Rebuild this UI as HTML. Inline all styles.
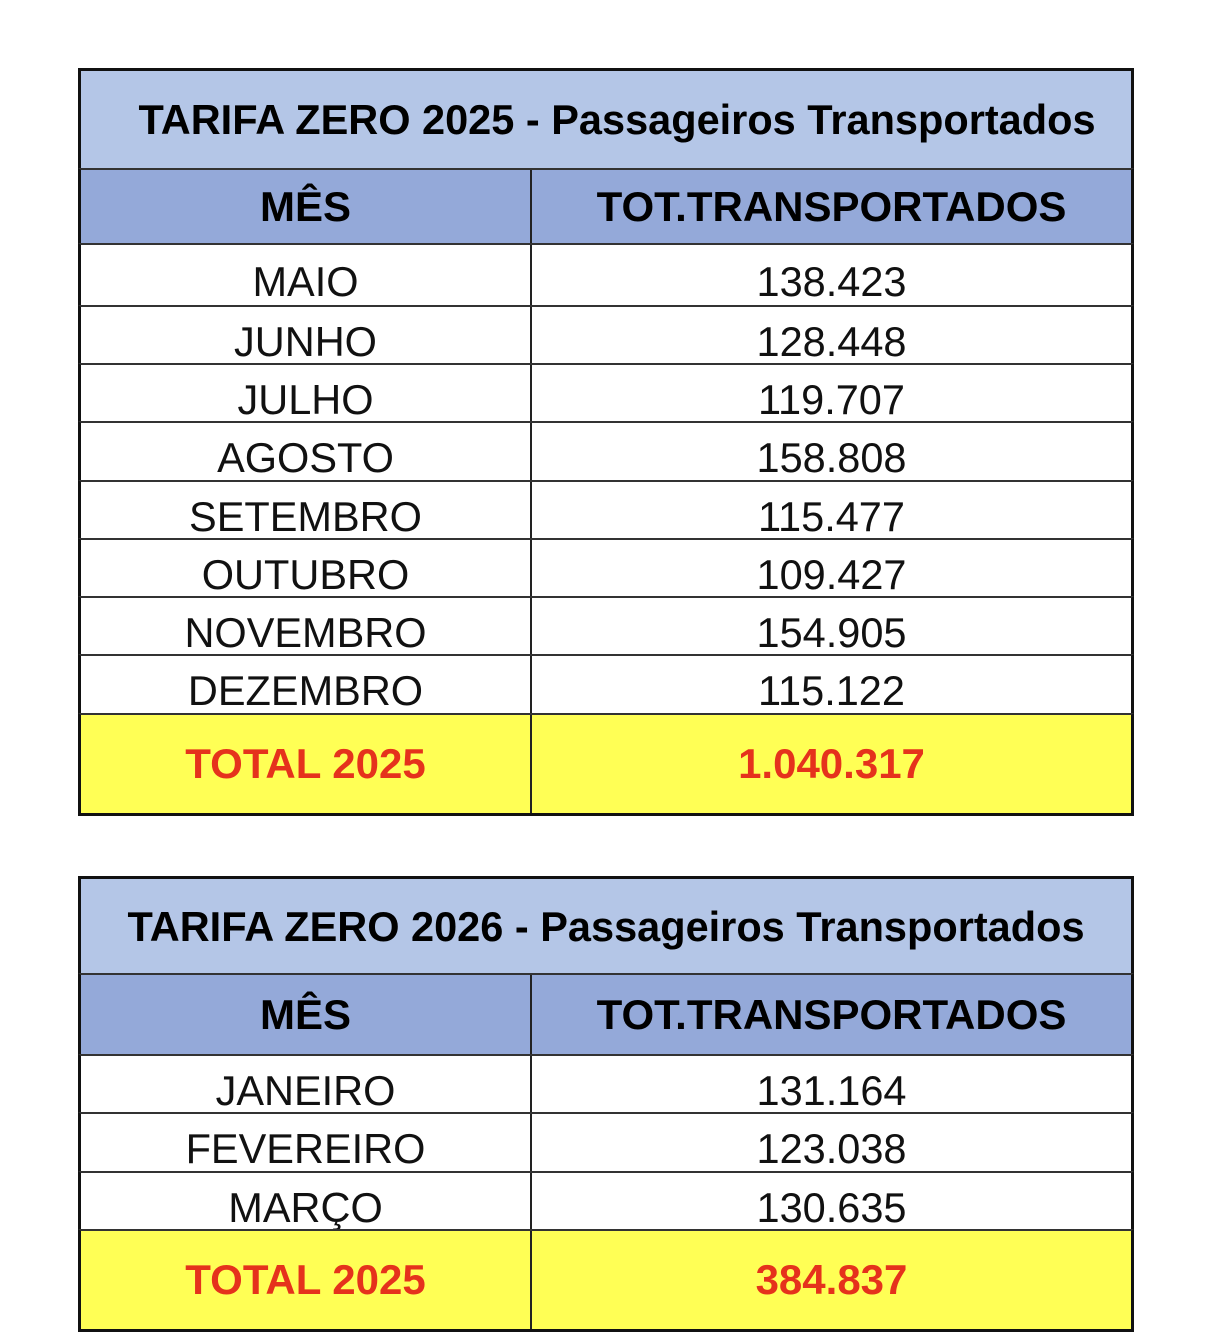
<!DOCTYPE html>
<html><head><meta charset="utf-8"><style>
body{margin:0;width:1206px;height:1340px;background:#fff;position:relative;font-family:"Liberation Sans",Arial,sans-serif;overflow:hidden}
.r{position:absolute;left:78px;width:1056px;box-sizing:border-box;border-left:3px solid #111;border-right:3px solid #111;border-top:2px solid #333;display:flex;align-items:center}
.c{position:absolute;top:0;bottom:0;display:flex;align-items:center;justify-content:center}
.a{left:0;width:449px}.b{left:449px;right:0;border-left:2px solid #222}
.t{background:#b4c6e7;font-weight:bold;font-size:41.5px;justify-content:center;border-top:3px solid #111}
.h{background:#94a9d9;font-weight:bold;font-size:42px}
.d{background:#fff;font-size:41.5px;color:#111}
.d .c{padding-top:12px;box-sizing:border-box}
.y{background:#ffff55;font-weight:bold;font-size:42px;color:#e5321c;border-bottom:3px solid #111}
</style></head><body>
<div class="r t" style="top:68px;height:101px"><span style="padding-left:22px">TARIFA ZERO 2025 - Passageiros Transportados</span></div>
<div class="r h" style="top:168px;height:76px"><div class="c a">MÊS</div><div class="c b">TOT.TRANSPORTADOS</div></div>
<div class="r d" style="top:243px;height:63px"><div class="c a">MAIO</div><div class="c b">138.423</div></div>
<div class="r d" style="top:305px;height:59px"><div class="c a">JUNHO</div><div class="c b">128.448</div></div>
<div class="r d" style="top:363px;height:59px"><div class="c a">JULHO</div><div class="c b">119.707</div></div>
<div class="r d" style="top:421px;height:60px"><div class="c a">AGOSTO</div><div class="c b">158.808</div></div>
<div class="r d" style="top:480px;height:59px"><div class="c a">SETEMBRO</div><div class="c b">115.477</div></div>
<div class="r d" style="top:538px;height:59px"><div class="c a">OUTUBRO</div><div class="c b">109.427</div></div>
<div class="r d" style="top:596px;height:59px"><div class="c a">NOVEMBRO</div><div class="c b">154.905</div></div>
<div class="r d" style="top:654px;height:60px"><div class="c a">DEZEMBRO</div><div class="c b">115.122</div></div>
<div class="r y" style="top:713px;height:103px"><div class="c a">TOTAL 2025</div><div class="c b">1.040.317</div></div>

<div class="r t" style="top:876px;height:98px">TARIFA ZERO 2026 - Passageiros Transportados</div>
<div class="r h" style="top:973px;height:82px"><div class="c a">MÊS</div><div class="c b">TOT.TRANSPORTADOS</div></div>
<div class="r d" style="top:1054px;height:59px"><div class="c a">JANEIRO</div><div class="c b">131.164</div></div>
<div class="r d" style="top:1112px;height:60px"><div class="c a">FEVEREIRO</div><div class="c b">123.038</div></div>
<div class="r d" style="top:1171px;height:59px"><div class="c a">MARÇO</div><div class="c b">130.635</div></div>
<div class="r y" style="top:1229px;height:103px"><div class="c a">TOTAL 2025</div><div class="c b">384.837</div></div>
</body></html>
